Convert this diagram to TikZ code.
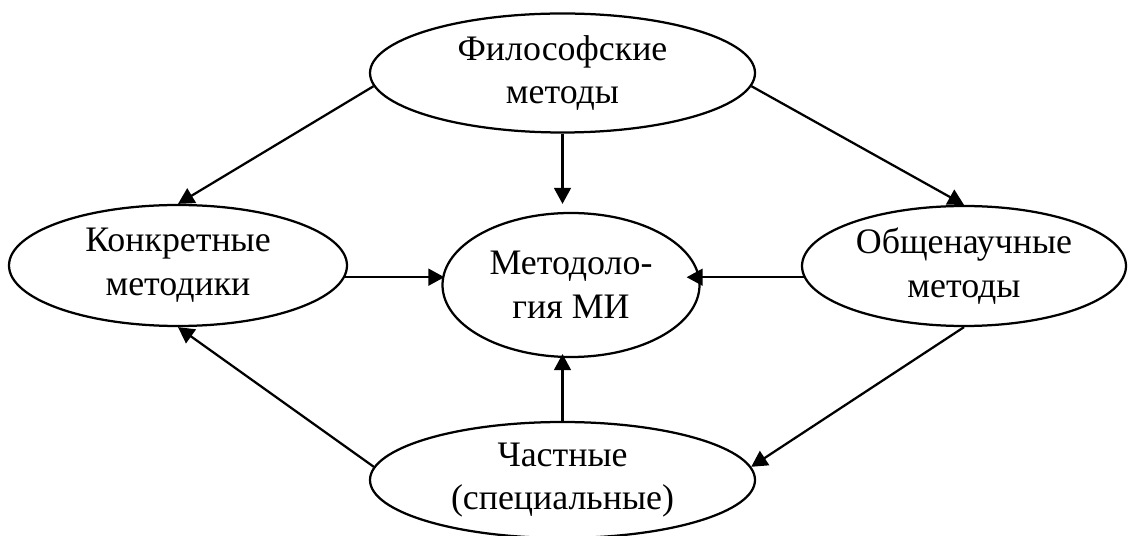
\documentclass[tikz,border=0pt]{standalone}
\usepackage{fontspec}
\setmainfont{Liberation Serif}
\usepackage{tikz}
\usetikzlibrary{arrows.meta, shapes.geometric, calc}
\tikzset{
  method_node/.style={ellipse, draw=black, fill=white, line width=1.6pt, inner sep=0pt, align=center, font=\fontsize{25.5}{31}\selectfont},
  flow_arrow/.style={line width=1.6pt, -{Triangle[length=0.4cm, width=0.42cm]}}
}

\begin{document}
\begin{tikzpicture}[x=0.025cm, y=-0.025cm]
\useasboundingbox (0,0) rectangle (1128,536);
\node[method_node, minimum width=385*0.025cm, minimum height=119*0.025cm] (phil_node) at (562.5,73) {Философские\\методы};
\node[method_node, minimum width=338*0.025cm, minimum height=121*0.025cm] (konk_node) at (178,265.5) {Конкретные\\методики};
\node[method_node, minimum width=257*0.025cm, minimum height=144*0.025cm] (meth_node) at (571,285) {Методоло-\\гия МИ};
\node[method_node, minimum width=324*0.025cm, minimum height=120*0.025cm] (obsh_node) at (964,266) {Общенаучные\\методы};
\node[method_node, minimum width=385*0.025cm, minimum height=116*0.025cm] (chast_node) at (562.5,480) {Частные\\(специальные)};
% arrows from the top
\draw[flow_arrow] (phil_node.184) -- (konk_node.north);
\draw[flow_arrow, shorten >=0.2cm] (phil_node.south) -- (phil_node.south |- meth_node.north);
\draw[flow_arrow] (phil_node.356) -- (obsh_node.north);
% arrows into the centre
\draw[flow_arrow, shorten >=-0.075cm] (konk_node.356) -- (konk_node.356 -| meth_node.west);
\draw[flow_arrow, shorten >=-0.35cm] (obsh_node.184) -- (obsh_node.184 -| meth_node.east);
\draw[flow_arrow, shorten >=-0.1cm] (chast_node.north) -- (chast_node.north |- meth_node.south);
% arrows round the bottom
\draw[flow_arrow] (chast_node.176) -- (konk_node.south);
\draw[flow_arrow] (obsh_node.south) -- (chast_node.4);
\end{tikzpicture}
\end{document}
